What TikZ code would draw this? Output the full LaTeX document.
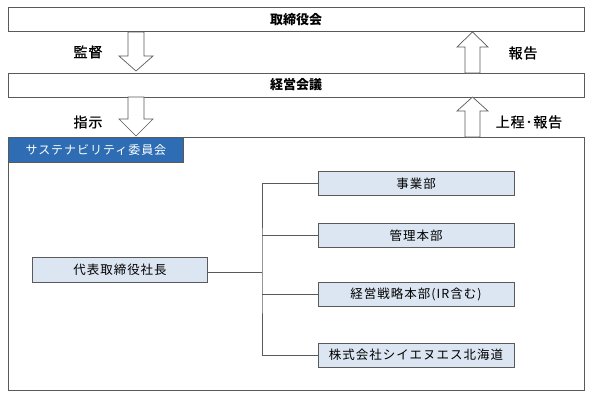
\documentclass[tikz,border=0pt]{standalone}
\usepackage{fontspec}
\setmainfont{Noto Sans CJK JP}
\newfontfamily\spacedfont[LetterSpace=8]{Noto Sans CJK JP}
\newfontfamily\lblfont[LetterSpace=6,FakeBold=1]{Noto Sans CJK JP}
\usetikzlibrary{calc}
\definecolor{hdrblue}{HTML}{2E6DB4}
\definecolor{boxfill}{HTML}{DCE6F2}
\definecolor{edge}{HTML}{5A5A5A}
\tikzset{
  wide/.style={draw=edge, line width=0.8pt, fill=white, minimum width=576pt, minimum height=24pt, inner sep=0pt, font=\fontsize{13}{15}\selectfont\bfseries},
  unit/.style={draw=edge, line width=0.8pt, fill=boxfill, minimum width=196pt, minimum height=24pt, inner sep=0pt, font=\fontsize{12.5}{15}\selectfont\spacedfont},
  barrow/.style={draw=edge, line width=0.7pt, fill=white},
  lbl/.style={font=\fontsize{14}{16}\selectfont\lblfont, inner sep=0pt},
  link/.style={draw=edge, line width=0.8pt}
}
\begin{document}
\begin{tikzpicture}[x=1pt,y=-1pt]
\useasboundingbox (0,0) rectangle (595,399);
% frame
\node[draw=edge, line width=0.8pt, minimum width=576pt, minimum height=253pt, inner sep=0pt, anchor=north west] (frame) at (8,137) {};
\node[draw=edge, line width=0.8pt, fill=hdrblue, text=white, minimum width=175pt, minimum height=25pt, inner sep=0pt, anchor=north west, font=\fontsize{12}{14}\selectfont\spacedfont] (sus) at (8,137) {サステナビリティ委員会};
% top boxes
\node[wide] (board) at (296,19.5) {取締役会};
\node[wide] (mgmt) at (296,85) {経営会議};
% block arrows down
\draw[barrow] (128,32) -- (144,32) -- (144,56) -- (153,56) -- (136,71) -- (119,56) -- (128,56) -- cycle;
\draw[barrow] (128,97) -- (144,97) -- (144,119) -- (153,119) -- (136,136) -- (119,119) -- (128,119) -- cycle;
% block arrows up
\draw[barrow] (465,73) -- (480,73) -- (480,47) -- (488,47) -- (472.5,32) -- (457,47) -- (465,47) -- cycle;
\draw[barrow] (465,137) -- (480,137) -- (480,111) -- (488,111) -- (472.5,97) -- (457,111) -- (465,111) -- cycle;
\node[lbl] (l1) at (88,52) {監督};
\node[lbl] (l2) at (88,122) {指示};
\node[lbl] (l3) at (523,53) {報告};
\node[lbl] (l4) at (529,122) {上程･報告};
% org
\node[unit, minimum width=175pt, minimum height=25pt] (ceo) at (120,270) {代表取締役社長};
\node[unit] (d1) at (416,183.5) {事業部};
\node[unit] (d2) at (416,235.5) {管理本部};
\node[unit] (d3) at (416,294.5) {経営戦略本部(IR含む)};
\node[unit] (d4) at (416,355) {株式会社シイエヌエス北海道};
\coordinate (br) at (262,272);
\draw[link] (ceo.east |- br) -- (br);
\draw[link] (d1.west) -| (br) |- (d4.west);
\draw[link] (d2.west) -- (d2.west -| br);
\draw[link] (d3.west) -- (d3.west -| br);
\end{tikzpicture}
\end{document}
